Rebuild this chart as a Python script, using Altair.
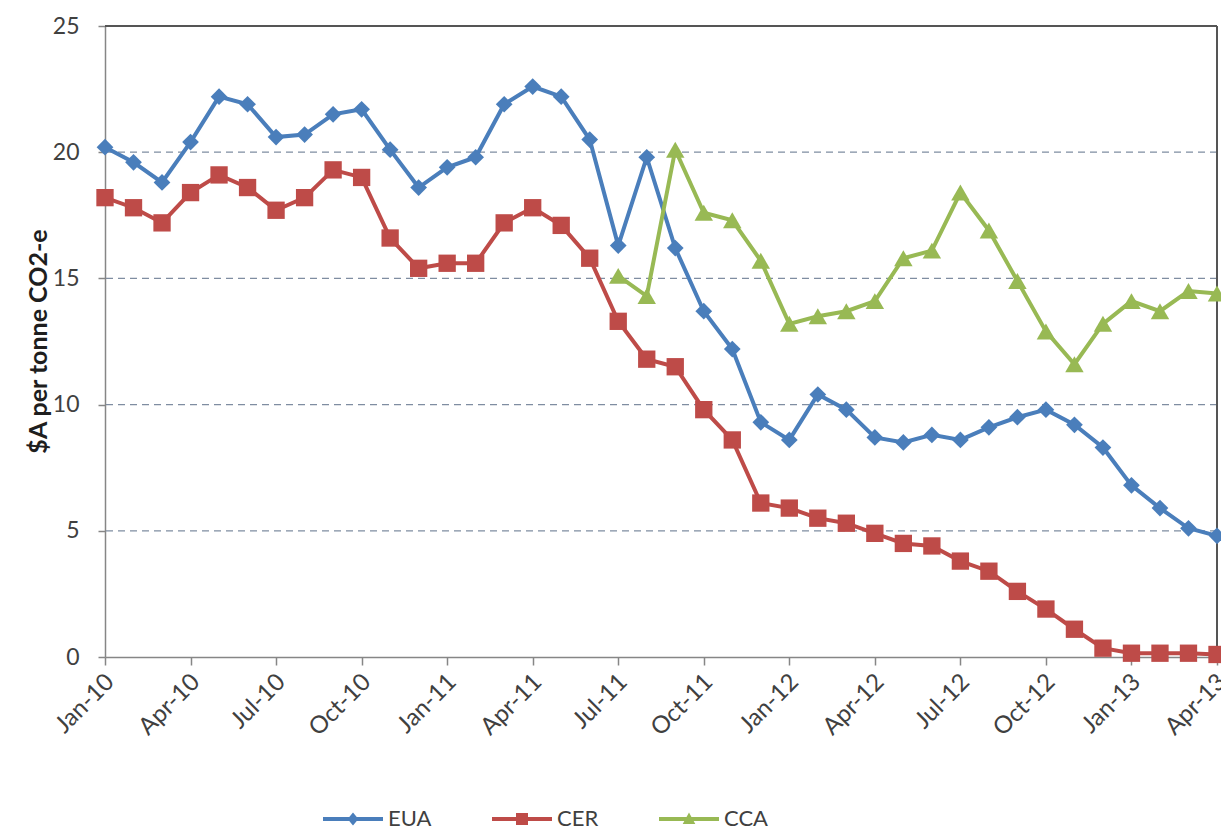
import altair as alt
import pandas as pd

# Monthly carbon prices, Jan-2010 to Apr-2013 ($A per tonne CO2-e)
months = pd.date_range("2010-01-01", periods=40, freq="MS").strftime("%b-%y").tolist()
tick_labels = ["Jan-10", "Apr-10", "Jul-10", "Oct-10", "Jan-11", "Apr-11", "Jul-11",
               "Oct-11", "Jan-12", "Apr-12", "Jul-12", "Oct-12", "Jan-13", "Apr-13"]

eua = [20.2, 19.6, 18.8, 20.4, 22.2, 21.9, 20.6, 20.7, 21.5, 21.7,
       20.1, 18.6, 19.4, 19.8, 21.9, 22.6, 22.2, 20.5, 16.3, 19.8,
       16.2, 13.7, 12.2, 9.3, 8.6, 10.4, 9.8, 8.7, 8.5, 8.8,
       8.6, 9.1, 9.5, 9.8, 9.2, 8.3, 6.8, 5.9, 5.1, 4.8]
cer = [18.2, 17.8, 17.2, 18.4, 19.1, 18.6, 17.7, 18.2, 19.3, 19.0,
       16.6, 15.4, 15.6, 15.6, 17.2, 17.8, 17.1, 15.8, 13.3, 11.8,
       11.5, 9.8, 8.6, 6.1, 5.9, 5.5, 5.3, 4.9, 4.5, 4.4,
       3.8, 3.4, 2.6, 1.9, 1.1, 0.35, 0.15, 0.15, 0.15, 0.1]
cca = [None] * 18 + [15.1, 14.3, 20.1, 17.6, 17.3, 15.7, 13.2, 13.5, 13.7, 14.1,
                     15.8, 16.1, 18.4, 16.9, 14.9, 12.9, 11.6, 13.2, 14.1, 13.7,
                     14.5, 14.4]

series_names = ["EUA", "CER", "CCA"]
series_colors = ["#4A7EBB", "#BE4B48", "#98B954"]
marker_shapes = ["diamond", "square", "triangle-up"]
marker_sizes = [280, 300, 340]
# legend keys: a short line with the series marker on it
legend_shapes = [
    "M-1,-0.067H1V0.067H-1Z M0,-0.22L0.18,0L0,0.22L-0.18,0Z",
    "M-1,-0.067H1V0.067H-1Z M-0.2,-0.2H0.2V0.2H-0.2Z",
    "M-1,-0.067H1V0.067H-1Z M0,-0.22L0.21,0.17L-0.21,0.17Z",
]
grid_values = [5, 10, 15, 20]
y_ticks = [0, 5, 10, 15, 20, 25]

rows = []
for name, vals in zip(series_names, [eua, cer, cca]):
    for m, v in zip(months, vals):
        if v is not None:
            rows.append({"month": m, "series": name, "price": v})
df = pd.DataFrame(rows)
grid_df = pd.DataFrame({"price": grid_values})

FONT = "Lato"
TXT = "#404040"
AXIS_GREY = "#868686"

x_scale = alt.Scale(type="point", padding=0)
y_scale = alt.Scale(domain=[0, 25], nice=False)

x_axis = alt.Axis(values=tick_labels, title=None, labelAngle=315, labelAlign="right",
                  labelBaseline="middle", labelFont=FONT, labelFontSize=24,
                  labelColor=TXT, labelPadding=13, labelOffset=5, tickSize=8,
                  tickColor=AXIS_GREY, tickWidth=1.5, domainColor=AXIS_GREY,
                  domainWidth=1.5, grid=False, labelOverlap=False, labelBound=False,
                  labelFlush=False)
y_axis = alt.Axis(values=y_ticks, title="$A per tonne CO2-e", titleFont=FONT,
                  titleFontSize=25, titleFontWeight="bold", titleColor="#1E1E1E",
                  titleAngle=270, titleX=-67, titleY=315, titleAlign="center",
                  titleBaseline="middle", labelFont=FONT, labelFontSize=23,
                  labelColor=TXT, labelPadding=19, tickSize=7, tickColor=AXIS_GREY,
                  tickWidth=1.5, domainColor=AXIS_GREY, domainWidth=1.5, grid=False)

x_enc = alt.X("month:O", sort=months, scale=x_scale, axis=x_axis)
y_enc = alt.Y("price:Q", scale=y_scale, axis=y_axis)

grid = alt.Chart(grid_df).mark_rule(
    strokeDash=[7, 5], color="#7F8DA1", strokeWidth=1.3
).encode(y=y_enc)

top_border = alt.Chart(df).mark_rule(color="#555555", strokeWidth=2).encode(
    y=alt.YDatum(25, type="quantitative", scale=y_scale, axis=y_axis)
)
right_border = alt.Chart(df).mark_rule(color="#555555", strokeWidth=2).encode(
    x=alt.XDatum(months[-1], type="ordinal", scale=x_scale, axis=x_axis)
)

# one line layer and one marker layer per series
line_layers = []
marker_layers = []
for name, color, shape, size in zip(series_names, series_colors, marker_shapes, marker_sizes):
    base = alt.Chart(df).transform_filter(alt.datum.series == name)
    line_layers.append(base.mark_line(strokeWidth=4, color=color).encode(x=x_enc, y=y_enc))
    marker_layers.append(
        base.mark_point(filled=True, opacity=1, shape=shape, size=size, color=color)
        .encode(x=x_enc, y=y_enc)
    )

legend_def = alt.Legend(
    title=None, orient="none", legendX=218, legendY=763, direction="horizontal",
    symbolSize=3600, symbolStrokeWidth=0, symbolOpacity=1, labelFont=FONT,
    labelFontSize=22, labelColor=TXT, labelOffset=5, columnPadding=60,
)
legend_layer = alt.Chart(df).transform_filter("false").mark_point(filled=True).encode(
    color=alt.Color("series:N", scale=alt.Scale(domain=series_names, range=series_colors),
                    legend=legend_def),
    shape=alt.Shape("series:N", scale=alt.Scale(domain=series_names, range=legend_shapes),
                    legend=legend_def),
)

chart = alt.layer(
    grid, top_border, right_border, *line_layers, *marker_layers, legend_layer
).properties(
    width=1112, height=631,
    autosize=alt.AutoSizeParams(type="none"),
    padding={"left": 105, "top": 26, "right": 4, "bottom": 175},
    background="white",
).configure_view(stroke=None)

chart.save("out.html", embed_options={"renderer": "svg", "actions": False})
